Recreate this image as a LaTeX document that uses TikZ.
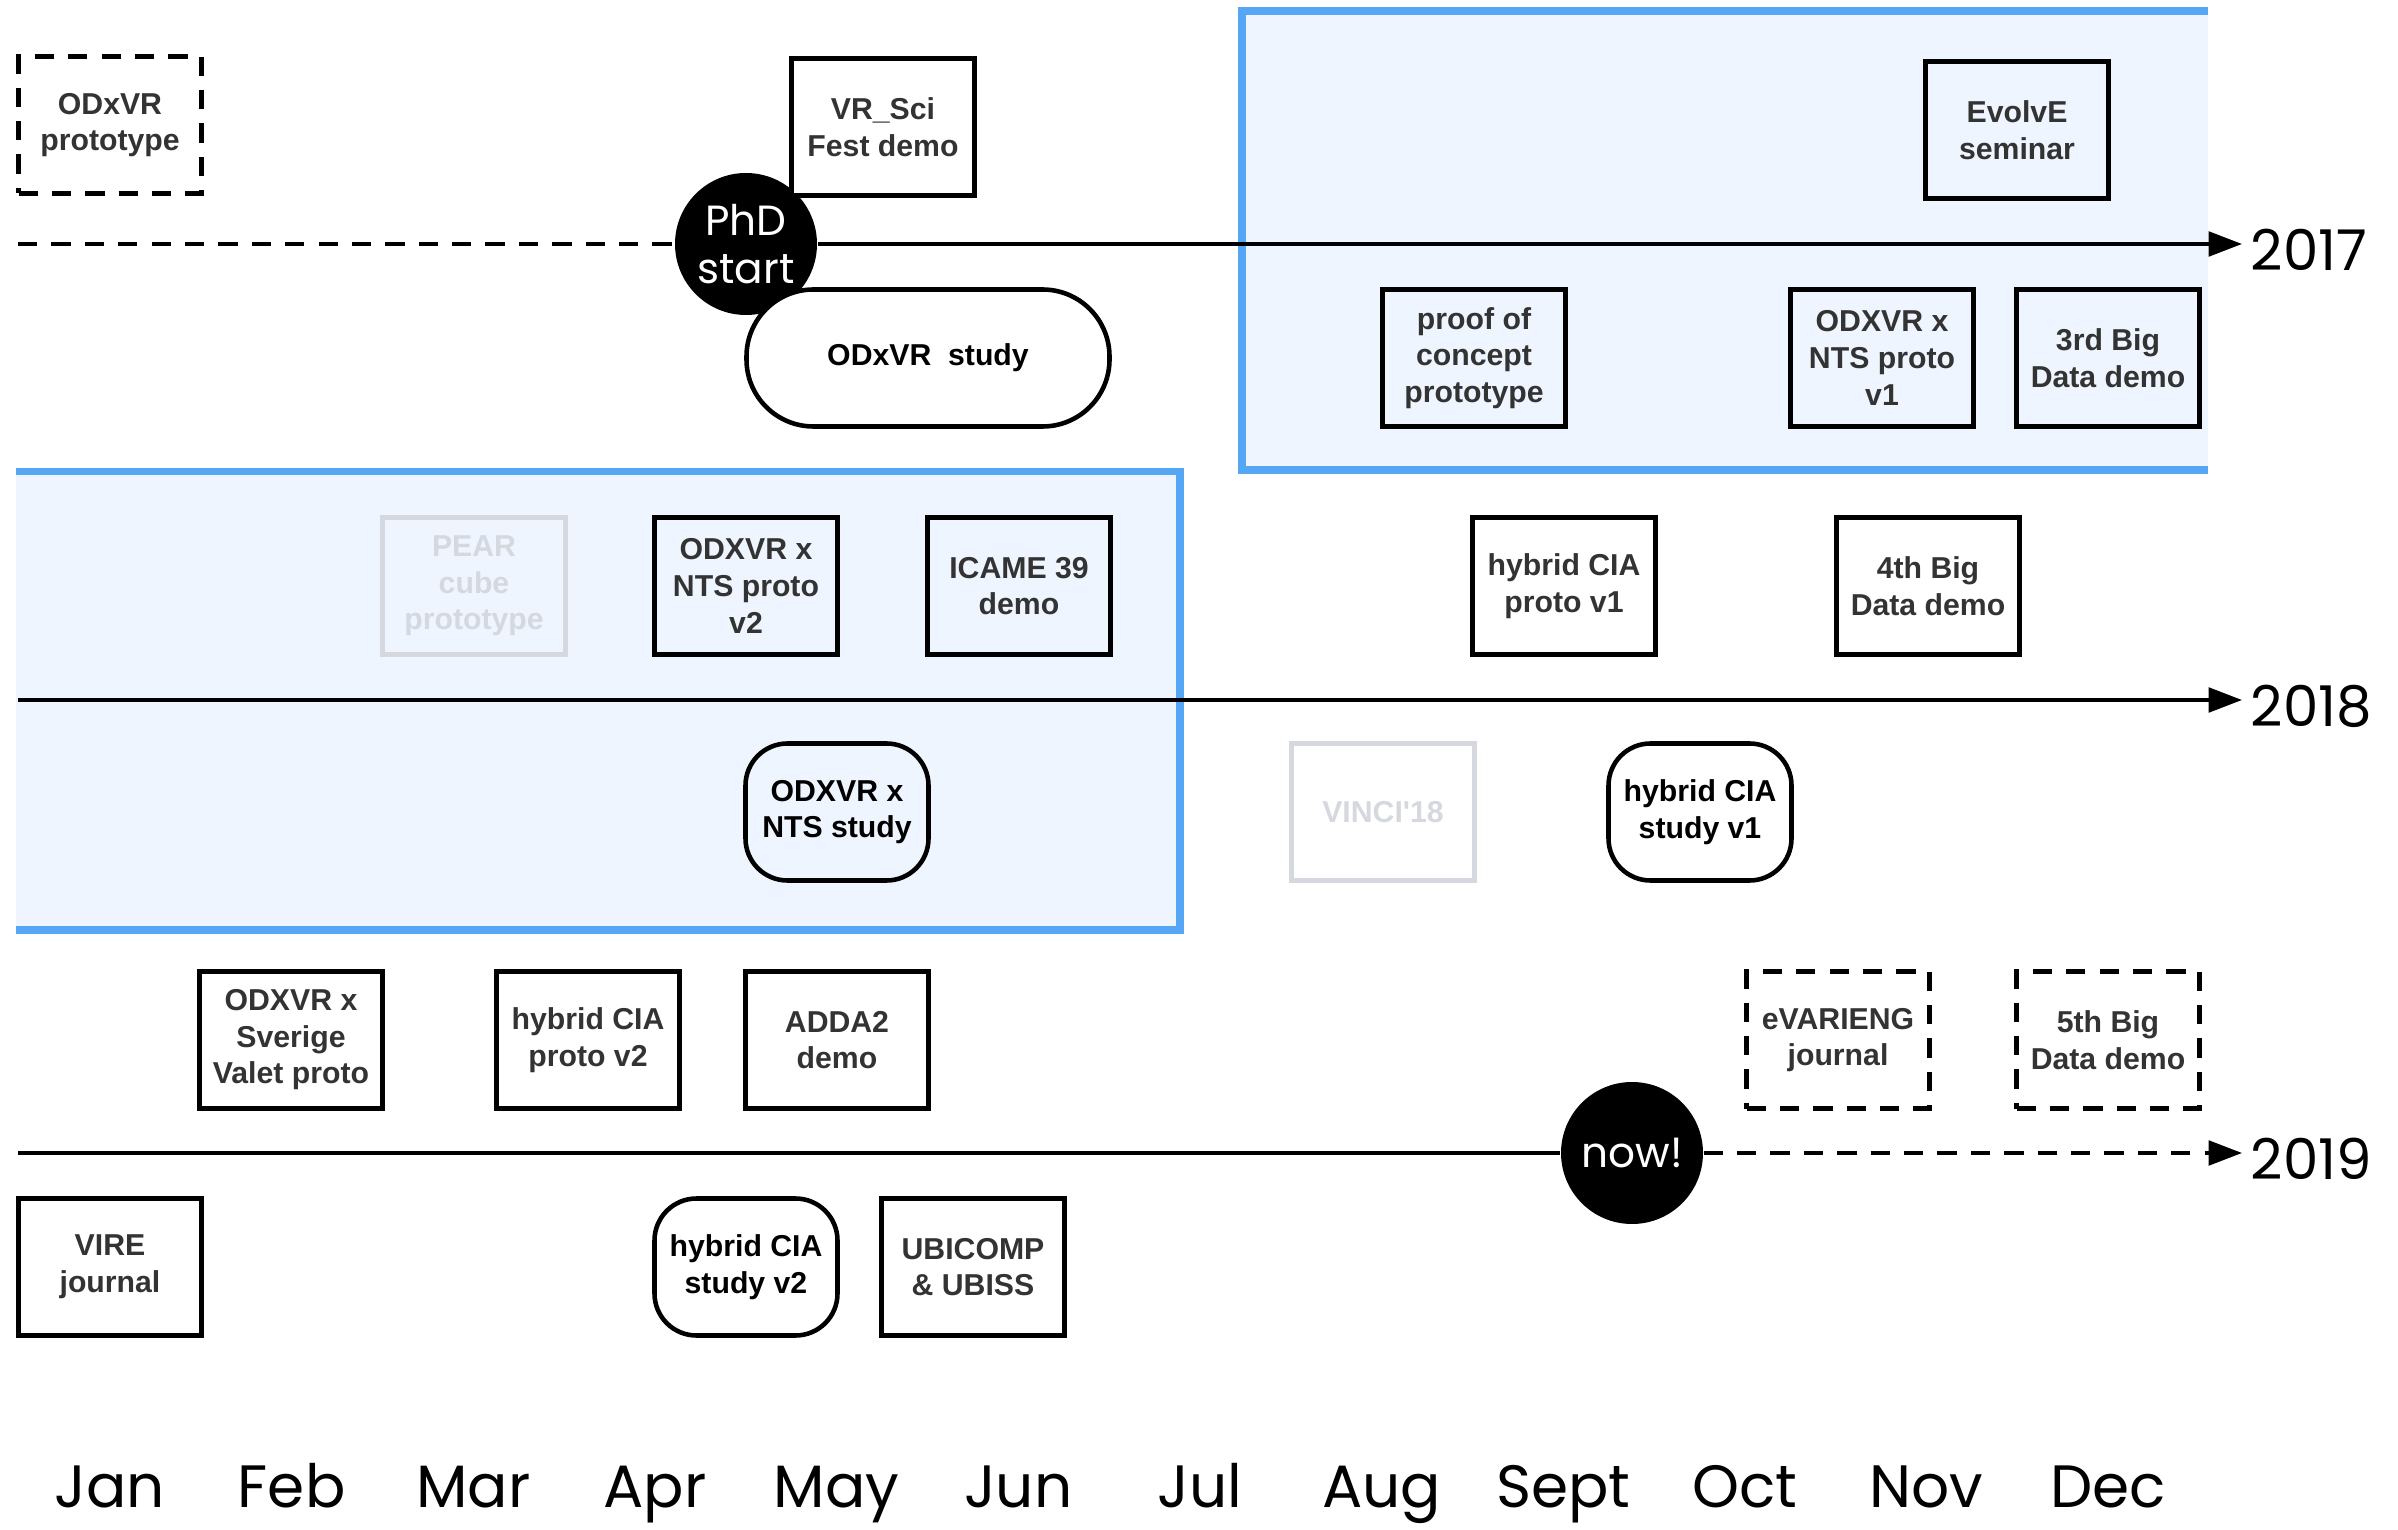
\documentclass[tikz,border=0pt]{standalone}
\usepackage{fontspec}
\setmainfont{Liberation Sans}
\newfontfamily\handfont{Poppins}
\usetikzlibrary{arrows.meta,positioning}

\definecolor{laneblue}{HTML}{55A7F5}
\definecolor{lanefill}{HTML}{EEF5FE}
\definecolor{evttext}{HTML}{333333}
\definecolor{pastgray}{HTML}{D5D9DF}

\tikzset{
  evt/.style={draw=black, line width=1.3pt, minimum width=1.83cm, minimum height=1.37cm,
    inner sep=1pt, align=center, text=evttext, font=\bfseries\fontsize{8.6}{10.4}\selectfont},
  plannedevt/.style={evt, dash pattern=on 5.5pt off 4pt},
  droppedevt/.style={evt, draw=pastgray, text=pastgray},
  studyevt/.style={evt, rounded corners=0.42cm, text=black},
  milestone/.style={circle, fill=black, minimum size=1.42cm, inner sep=0pt, align=center,
    text=white, font=\handfont\fontsize{12}{13.5}\selectfont},
  yearline/.style={line width=1pt, -{Triangle[length=9.5pt,width=7pt]}},
  futureline/.style={line width=1pt, dash pattern=on 5.5pt off 4pt},
  yearlbl/.style={font=\handfont\fontsize{16}{16}\selectfont, inner sep=0pt, yshift=-0.06cm},
  monthlbl/.style={font=\handfont\fontsize{17}{17}\selectfont, inner sep=0pt, anchor=base}
}

\begin{document}
\begin{tikzpicture}
\useasboundingbox (0,0) rectangle (23.98,15.29);

\fill[lanefill] (12.42,10.59) rectangle (22.08,15.18);
\fill[lanefill] (0.16,5.99) rectangle (11.80,10.575);
\draw[laneblue, line width=2.2pt] (22.08,15.18) -- (12.42,15.18) -- (12.42,10.59) -- (22.08,10.59);
\draw[laneblue, line width=2.2pt] (0.16,10.575) -- (11.80,10.575) -- (11.80,5.99) -- (0.16,5.99);

\coordinate (s17) at (0.18,12.85);
\coordinate (e17) at (22.42,12.85);
\coordinate (s18) at (0.18,8.29);
\coordinate (e18) at (22.42,8.29);
\coordinate (s19) at (0.18,3.76);
\coordinate (e19) at (22.42,3.76);

\node[milestone] (phd) at (7.46,12.85) {PhD\\start};
\node[milestone] (now) at (16.32,3.76) {now!};

\node[plannedevt] (odxvrproto) at (1.10,14.04) {ODxVR\\prototype};
\node[evt, fill=white] (vrsci) at (8.83,14.02) {VR\_Sci\\Fest demo};
\node[evt] (evolve) at (20.17,13.99) {EvolvE\\seminar};

\node[evt, fill=white, minimum width=3.63cm, rounded corners=0.67cm, text=black] (odxvrstudy) at (9.28,11.71) {ODxVR\ \ study};
\node[evt] (proof) at (14.74,11.71) {proof of\\concept\\prototype};
\node[evt] (ntsv1) at (18.82,11.71) {ODXVR x\\NTS proto\\v1};
\node[evt] (bigdata3) at (21.08,11.71) {3rd Big\\Data demo};

\node[droppedevt] (pear) at (4.74,9.43) {PEAR\\cube\\prototype};
\node[evt] (ntsv2) at (7.46,9.43) {ODXVR x\\NTS proto\\v2};
\node[evt] (icame) at (10.19,9.43) {ICAME 39\\demo};
\node[evt] (ciaproto1) at (15.64,9.43) {hybrid CIA\\proto v1};
\node[evt] (bigdata4) at (19.28,9.43) {4th Big\\Data demo};

\node[studyevt] (ntsstudy) at (8.37,7.17) {ODXVR x\\NTS study};
\node[droppedevt] (vinci) at (13.83,7.17) {VINCI\textquotesingle 18};
\node[studyevt] (ciastudy1) at (17.00,7.17) {hybrid CIA\\study v1};

\node[evt] (valet) at (2.91,4.89) {ODXVR x\\Sverige\\Valet proto};
\node[evt] (ciaproto2) at (5.88,4.89) {hybrid CIA\\proto v2};
\node[evt] (adda) at (8.37,4.89) {ADDA2\\demo};
\node[plannedevt] (evarieng) at (18.38,4.89) {eVARIENG\\journal};
\node[plannedevt] (bigdata5) at (21.08,4.89) {5th Big\\Data demo};

\node[evt] (vire) at (1.10,2.62) {VIRE\\journal};
\node[studyevt] (ciastudy2) at (7.46,2.62) {hybrid CIA\\study v2};
\node[evt] (ubicomp) at (9.73,2.62) {UBICOMP\\\& UBISS};

\draw[futureline] (s17) -- (phd);
\draw[yearline] (phd) -- (e17);
\draw[yearline] (s18) -- (e18);
\draw[line width=1pt] (s19) -- (now);
\draw[yearline, futureline] (now) -- (e19);

\node[yearlbl, right=0.08cm of e17] (y17) {2017};
\node[yearlbl, right=0.08cm of e18] (y18) {2018};
\node[yearlbl, right=0.08cm of e19] (y19) {2019};

\foreach \m [count=\i from 0] in {Jan,Feb,Mar,Apr,May,Jun,Jul,Aug,Sept,Oct,Nov,Dec}
  \node[monthlbl] (m\i) at ({1.10+1.8165*\i},0.22) {\m};
\end{tikzpicture}
\end{document}
